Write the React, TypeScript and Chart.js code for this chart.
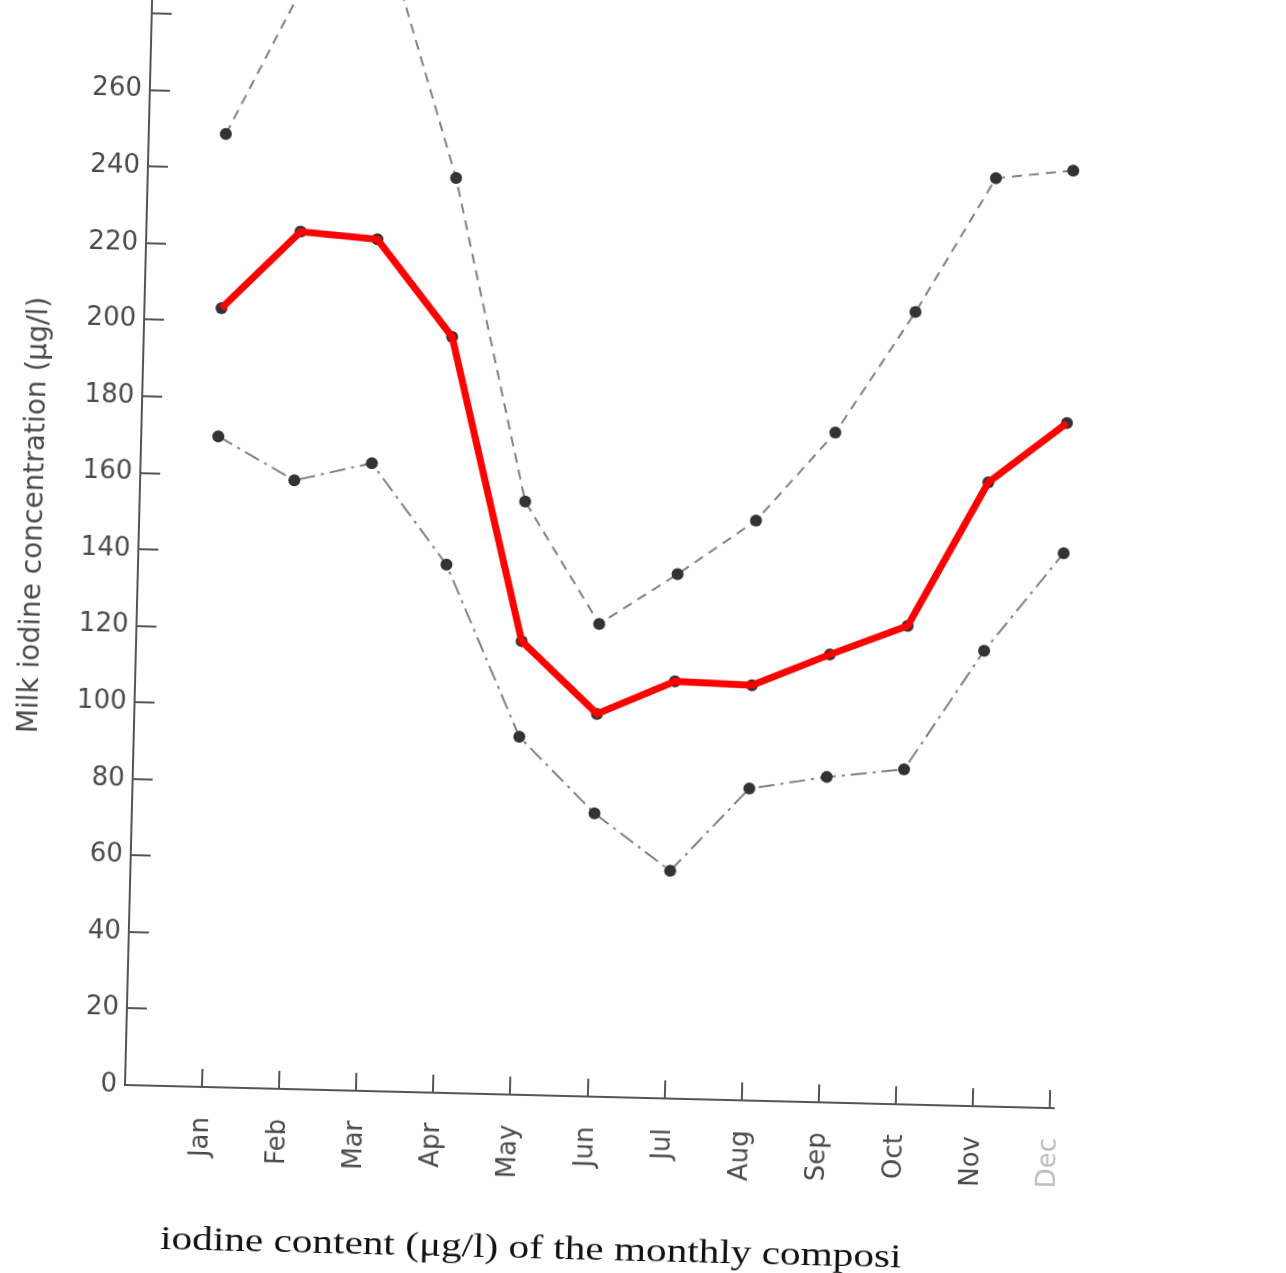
import React, { useEffect, useRef } from "react";
import { Chart, registerables } from "chart.js";

Chart.register(...registerables);

// ---- data ----
const months = ["Jan", "Feb", "Mar", "Apr", "May", "Jun", "Jul", "Aug", "Sep", "Oct", "Nov", "Dec"];
const upperValues = [249, 290, 302, 239, 155, 123.5, 137, 151.5, 175, 207, 242.5, 245];
const meanValues = [203.5, 224, 222.5, 197.5, 118.5, 100, 109, 108.5, 117, 125, 163, 179];
const highlightValues = [203.5, 224, 222.5, 197.5, 118.5, 100, 109, 108.5, 117, 125, 163, 179];
const lowerValues = [170, 159, 164, 138, 93.5, 74, 59.5, 81.5, 85, 87.5, 119, 145];
const yTickStep = 20;
const yLabelMax = 260;
const yTitle = "Milk iodine concentration (\u03bcg/l)";
const caption = "iodine content (\u03bcg/l) of the monthly composi";

// ---- layout ----
const W = 1286;
const H = 1400;
const T = 60; // canvas shifted up so the plot runs off the top of the page
const AXIS_X = 125;
const AXIS_Y = 1085 + T;
const TOP_PAD = 10;
const RIGHT_EDGE = 1054;
const PX_PER_UNIT = 3.828;
const Y_MAX = (AXIS_Y - TOP_PAD) / PX_PER_UNIT;
const TILT = 1.43;

const SANS = "'DejaVu Sans', sans-serif";
const AXIS_COLOR = "#555555";
const TEXT_COLOR = "#4a4a4a";

const toPoints = (vals: number[]) => vals.map((y, i) => ({ x: i + 1, y }));

const zeroPad = (s: any) => {
  s.paddingTop = 0;
  s.paddingBottom = 0;
  s.paddingLeft = 0;
  s.paddingRight = 0;
};

export default function App() {
  const ref = useRef<HTMLCanvasElement | null>(null);

  useEffect(() => {
    if (!ref.current) return;
    const dotStyle = {
      pointRadius: 6,
      pointHoverRadius: 6,
      pointBackgroundColor: "#333333",
      pointBorderWidth: 0,
      tension: 0,
      clip: false as const,
      order: 1,
    };
    const chart = new Chart(ref.current, {
      type: "line",
      data: {
        datasets: [
          {
            label: "highlight",
            data: toPoints(highlightValues),
            borderColor: "#ff0000",
            borderWidth: 7,
            pointRadius: 0,
            borderJoinStyle: "miter",
            borderCapStyle: "butt",
            tension: 0,
            clip: false,
            order: 0,
          },
          {
            label: "upper",
            data: toPoints(upperValues),
            borderColor: "#808080",
            borderWidth: 2,
            borderDash: [10, 7],
            ...dotStyle,
          },
          {
            label: "mean",
            data: toPoints(meanValues),
            borderColor: "#8a8a8a",
            borderWidth: 2,
            ...dotStyle,
          },
          {
            label: "lower",
            data: toPoints(lowerValues),
            borderColor: "#808080",
            borderWidth: 2,
            borderDash: [16, 6, 3, 6],
            ...dotStyle,
          },
        ],
      },
      options: {
        animation: false,
        responsive: false,
        maintainAspectRatio: false,
        layout: { padding: { top: TOP_PAD, right: W - RIGHT_EDGE, left: 0, bottom: 0 } },
        plugins: { legend: { display: false }, tooltip: { enabled: false } },
        scales: {
          x: {
            type: "linear",
            min: 0,
            max: 12.05,
            afterBuildTicks: (s: any) => {
              s.ticks = months.map((_, i) => ({ value: i + 1 }));
            },
            afterFit: (s: any) => {
              s.height = H - AXIS_Y;
              zeroPad(s);
            },
            ticks: {
              autoSkip: false,
              minRotation: 90,
              maxRotation: 90,
              padding: 48,
              font: { family: SANS, size: 26 },
              color: (c: any) => (c.index === 11 ? "#bdbdbd" : TEXT_COLOR),
              callback: (v: any) => months[Math.round(Number(v)) - 1] ?? "",
            },
            grid: { drawOnChartArea: false, tickLength: -18, color: AXIS_COLOR, lineWidth: 2 },
            border: { color: AXIS_COLOR, width: 2 },
          },
          y: {
            type: "linear",
            min: 0,
            max: Y_MAX,
            afterFit: (s: any) => {
              s.width = AXIS_X;
              zeroPad(s);
            },
            ticks: {
              stepSize: yTickStep,
              includeBounds: false,
              padding: 28,
              font: { family: SANS, size: 26 },
              color: TEXT_COLOR,
              callback: (v: any) => (Number(v) > yLabelMax ? "" : String(v)),
            },
            grid: { drawOnChartArea: false, tickLength: -20, color: AXIS_COLOR, lineWidth: 2 },
            border: { color: AXIS_COLOR, width: 2 },
            title: {
              display: true,
              text: yTitle,
              color: TEXT_COLOR,
              font: { family: SANS, size: 28 },
              padding: { top: 4, bottom: 0 },
            },
          },
        },
      },
    });
    return () => chart.destroy();
  }, []);

  return (
    <div
      style={{
        position: "absolute",
        left: 0,
        top: 0,
        width: W,
        height: 1273,
        overflow: "hidden",
        background: "#ffffff",
      }}
    >
      <div
        style={{
          position: "absolute",
          left: 0,
          top: -T,
          width: W,
          height: H,
          transform: `rotate(${TILT}deg)`,
          transformOrigin: `${AXIS_X}px ${AXIS_Y}px`,
        }}
      >
        <canvas ref={ref} width={W} height={H} style={{ width: W, height: H, display: "block" }} />
        <div
          style={{
            position: "absolute",
            left: 164,
            top: 1278,
            fontFamily: "'Liberation Serif', 'Times New Roman', serif",
            fontSize: 33,
            lineHeight: "38px",
            color: "#111111",
            whiteSpace: "nowrap",
            transform: "scaleX(1.25)",
            transformOrigin: "left center",
          }}
        >
          {caption}
        </div>
      </div>
    </div>
  );
}
